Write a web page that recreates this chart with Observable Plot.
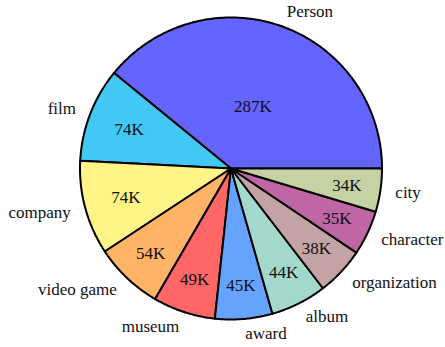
<!DOCTYPE html>
<html>
<head>
<meta charset="utf-8">
<script src="https://cdn.jsdelivr.net/npm/d3@7"></script>
<script src="https://cdn.jsdelivr.net/npm/@observablehq/plot@0.6"></script>
<style>
  html, body { margin: 0; padding: 0; background: #fff; }
  #chart { width: 445px; height: 347px; }
</style>
</head>
<body>
<div id="chart"></div>
<script>
// Data (values in thousands)
const categories = ["Person", "film", "company", "video game", "museum", "award", "album", "organization", "character", "city"];
const values = [287, 74, 74, 54, 49, 45, 44, 38, 35, 34];
const colors = ["#6464fe", "#42c8f4", "#fff486", "#ffb366", "#ff6666", "#65a3ff", "#a2d9cc", "#c3a3a3", "#c166a4", "#c4d2a4"];

// Layout (pixels)
const W = 445, H = 347, CX = 230.5, CY = 168, R = 151;

// Pick an installed serif font (Times-like), measured on a canvas
const ctx = document.createElement("canvas").getContext("2d");
function w(f) { ctx.font = "40px " + f; return ctx.measureText("Person organization 287K mwil").width; }
const candidates = ["Liberation Serif", "Tinos", "Times New Roman", "Times", "Nimbus Roman", "Nimbus Roman No9 L", "FreeSerif", "DejaVu Serif", "Noto Serif", "Noto Serif CJK SC", "Noto Serif CJK JP", "Source Serif Pro", "Georgia", "Bitstream Vera Serif"];
let font = null;
for (const f of candidates) {
  if (w(`"${f}", monospace`) !== w("monospace") || w(`"${f}", sans-serif`) !== w("sans-serif")) { font = `"${f}"`; break; }
}
if (!font) font = "serif";
const fam = font + ", serif";

const total = d3.sum(values);
const ends = d3.cumsum(values);
const slices = categories.map((name, i) => {
  const a0 = (ends[i] - values[i]) / total * 2 * Math.PI;
  const a1 = ends[i] / total * 2 * Math.PI;
  return {name, value: values[i], a0, a1, mid: (a0 + a1) / 2, half: (a1 - a0) / 2};
});

// Font size: 18px, reduced if the outer labels would not fit in the frame
let fontSize = 18;
ctx.font = `${fontSize}px ${fam}`;
for (const s of slices) {
  const c = Math.cos(s.mid);
  const ax = CX + 1.1 * R * c;
  const tw = ctx.measureText(s.name).width;
  const room = c > 0 ? (W - 2 - ax) : (ax - 2);
  if (tw > room) fontSize = Math.min(fontSize, 18 * room / tw);
}

// Polygon points for each wedge (unit radius, y up), counter-clockwise from 3 o'clock
const wedgePts = [];
for (const s of slices) {
  wedgePts.push({name: s.name, x: 0, y: 0});
  const n = Math.max(2, Math.ceil((s.a1 - s.a0) / 0.01));
  for (let k = 0; k <= n; k++) {
    const a = s.a0 + (s.a1 - s.a0) * k / n;
    wedgePts.push({name: s.name, x: Math.cos(a), y: Math.sin(a)});
  }
}

// Inside value labels: pushed outward for small wedges
const inner = slices.map(s => {
  const sh = Math.sin(Math.min(s.half, Math.PI / 2));
  const rIns = sh / (1 + sh);
  const r = Math.min(0.775, 1 - 1.17 * rIns);
  return {text: s.value + "K", x: r * Math.cos(s.mid), y: r * Math.sin(s.mid)};
});

// Outside category labels at 1.1 radius
const outer = slices.map(s => ({
  text: s.name,
  x: 1.1 * Math.cos(s.mid),
  y: 1.1 * Math.sin(s.mid),
  right: Math.cos(s.mid) > 0
}));

const chart = Plot.plot({
  width: W,
  height: H,
  margin: 0,
  style: {background: "#fff", overflow: "visible", fontFamily: fam},
  x: {domain: [-CX / R, (W - CX) / R], axis: null},
  y: {domain: [-(H - CY) / R, CY / R], axis: null},
  color: {domain: categories, range: colors},
  marks: [
    Plot.line(wedgePts, {x: "x", y: "y", z: "name", fill: "name", stroke: "black", strokeWidth: 2, strokeLinejoin: "round", curve: "linear-closed"}),
    Plot.text(inner, {x: "x", y: "y", text: "text", fontSize, fill: "#111", fontFamily: fam}),
    Plot.text(outer.filter(d => d.right), {x: "x", y: "y", text: "text", fontSize, textAnchor: "start", fill: "#111", fontFamily: fam}),
    Plot.text(outer.filter(d => !d.right), {x: "x", y: "y", text: "text", fontSize, textAnchor: "end", fill: "#111", fontFamily: fam})
  ]
});
document.getElementById("chart").appendChild(chart);
</script>
</body>
</html>
